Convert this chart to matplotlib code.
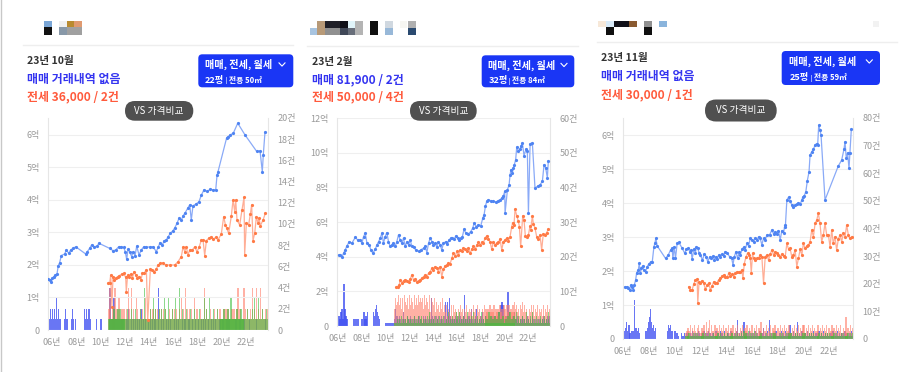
import numpy as np
import matplotlib
matplotlib.use("Agg")
import matplotlib.pyplot as plt
from matplotlib.patches import Rectangle, FancyBboxPatch

plt.rcParams["font.family"] = ["Noto Sans CJK KR", "DejaVu Sans"]

# ---------------- data ----------------
# price points: (year, 억원)
c1_sale = [(2005.70, 1.57), (2005.81, 1.54), (2005.95, 1.49), (2006.03, 1.59), (2006.14, 1.64), (2006.28, 1.69),
           (2006.41, 1.72), (2006.52, 1.98), (2006.63, 2.07), (2006.77, 2.29), (2007.05, 2.34), (2007.18, 2.46),
           (2007.38, 2.36), (2007.54, 2.46), (2007.73, 2.51), (2007.96, 2.56), (2008.78, 2.34), (2008.92, 2.41),
           (2009.11, 2.51), (2009.28, 2.62), (2009.46, 2.56), (2009.75, 2.58), (2009.86, 2.67), (2010.77, 2.51),
           (2011.04, 2.44), (2011.26, 2.46), (2011.51, 2.56), (2011.73, 2.56), (2011.92, 2.54), (2012.06, 2.41),
           (2012.17, 2.17), (2012.28, 2.48), (2012.42, 2.41), (2012.58, 2.26), (2012.70, 2.41), (2012.86, 2.28),
           (2013.00, 2.58), (2013.19, 2.31), (2013.38, 2.46), (2013.58, 2.56), (2013.80, 2.54), (2014.07, 2.56),
           (2014.35, 2.56), (2014.62, 2.41), (2014.79, 2.56), (2014.93, 2.69), (2015.12, 2.62), (2015.28, 2.75),
           (2015.45, 2.77), (2015.59, 2.87), (2015.78, 2.97), (2016.00, 3.06), (2016.13, 3.13), (2016.33, 3.28),
           (2016.50, 3.44), (2016.69, 3.38), (2016.83, 3.51), (2016.98, 3.59), (2017.21, 3.74), (2017.38, 3.85),
           (2017.51, 3.38), (2017.65, 3.82), (2017.93, 3.88), (2018.15, 3.95), (2018.34, 4.15), (2018.56, 4.31),
           (2018.81, 4.26), (2019.09, 4.33), (2019.31, 4.31), (2019.53, 4.31), (2019.64, 4.77), (2019.72, 4.87),
           (2020.44, 5.92), (2020.57, 5.95), (2020.71, 6.00), (2020.98, 6.05), (2021.35, 6.36), (2021.95, 6.00),
           (2022.92, 5.49), (2023.19, 5.51), (2023.38, 4.87), (2023.46, 5.38), (2023.60, 6.08)]
c1_jeonse = [(2010.66, 1.46), (2010.77, 1.44), (2010.85, 1.69), (2010.95, 0.70), (2011.04, 1.64), (2011.15, 1.54),
             (2011.26, 1.59), (2011.42, 1.64), (2011.56, 1.67), (2011.76, 1.72), (2011.92, 1.74), (2012.09, 1.62),
             (2012.14, 1.18), (2012.25, 1.69), (2012.36, 1.64), (2012.50, 1.72), (2012.64, 1.59), (2012.78, 1.79),
             (2012.92, 1.69), (2013.05, 1.59), (2013.19, 1.64), (2013.35, 1.54), (2013.47, 1.74), (2013.60, 1.74),
             (2013.80, 1.85), (2013.91, 0.30), (2014.13, 1.87), (2014.30, 1.85), (2014.40, 1.79), (2014.62, 1.87),
             (2014.76, 2.00), (2014.96, 2.05), (2015.17, 2.07), (2015.39, 2.00), (2015.72, 2.00), (2016.14, 2.00),
             (2016.41, 2.10), (2016.69, 2.26), (2016.83, 2.56), (2016.97, 2.41), (2017.10, 2.56), (2017.24, 2.31),
             (2017.38, 2.46), (2017.60, 2.46), (2017.79, 2.56), (2017.98, 2.41), (2018.15, 2.54), (2018.34, 2.77),
             (2018.48, 2.77), (2018.62, 2.29), (2018.76, 2.75), (2018.95, 2.82), (2019.17, 2.87), (2019.31, 2.79),
             (2019.53, 2.85), (2019.72, 2.77), (2019.99, 2.95), (2020.19, 3.49), (2020.33, 3.23), (2020.44, 3.13),
             (2020.60, 2.97), (2020.82, 3.51), (2020.96, 4.00), (2021.10, 3.64), (2021.18, 4.00), (2021.29, 3.38),
             (2021.51, 3.23), (2021.70, 3.69), (2021.87, 4.08), (2021.92, 2.31), (2022.06, 3.28), (2022.25, 3.23),
             (2022.39, 3.57), (2022.50, 3.85), (2022.61, 2.75), (2022.75, 2.97), (2022.89, 3.49), (2023.03, 3.28),
             (2023.11, 3.44), (2023.22, 3.21), (2023.44, 3.38), (2023.63, 3.59)]

c2_sale = [(2006.08, 4.10), (2006.22, 4.07), (2006.36, 3.97), (2006.50, 4.20), (2006.64, 4.39), (2006.78, 4.62),
           (2006.98, 4.87), (2007.20, 4.78), (2007.48, 5.11), (2007.68, 4.97), (2007.90, 4.97), (2008.04, 4.78),
           (2008.18, 5.16), (2008.32, 5.36), (2008.46, 4.78), (2008.65, 4.68), (2008.79, 4.39), (2008.96, 4.20),
           (2009.16, 4.43), (2009.30, 4.68), (2009.44, 4.87), (2009.58, 5.07), (2009.72, 5.36), (2009.85, 4.78),
           (2009.99, 5.16), (2010.13, 5.39), (2010.27, 4.87), (2010.41, 4.59), (2010.55, 4.68), (2010.69, 4.78),
           (2010.83, 4.59), (2010.97, 4.87), (2011.11, 5.26), (2011.25, 4.97), (2011.39, 4.78), (2011.53, 5.07),
           (2011.67, 4.59), (2011.81, 4.87), (2011.95, 4.68), (2012.09, 4.97), (2012.23, 4.59), (2012.37, 4.55),
           (2012.56, 4.39), (2012.79, 4.30), (2012.98, 4.39), (2013.21, 4.49), (2013.35, 4.59), (2013.49, 4.24),
           (2013.63, 4.78), (2013.77, 5.07), (2013.91, 4.87), (2014.04, 4.68), (2014.18, 4.78), (2014.32, 4.55),
           (2014.46, 4.87), (2014.60, 4.68), (2014.74, 4.39), (2014.88, 4.78), (2015.08, 4.87), (2015.22, 4.74),
           (2015.36, 4.97), (2015.50, 5.07), (2015.64, 5.07), (2015.78, 5.01), (2015.92, 5.20), (2016.06, 5.07),
           (2016.20, 4.97), (2016.34, 5.07), (2016.47, 5.16), (2016.61, 5.59), (2016.75, 5.36), (2016.98, 5.32),
           (2017.17, 5.45), (2017.34, 5.65), (2017.45, 5.93), (2017.62, 5.74), (2017.82, 5.84), (2018.01, 5.78),
           (2018.18, 6.22), (2018.29, 6.42), (2018.40, 6.90), (2018.51, 7.19), (2018.65, 7.28), (2018.85, 7.23),
           (2019.07, 7.19), (2019.30, 7.15), (2019.49, 7.24), (2019.63, 7.28), (2019.77, 7.38), (2019.91, 7.51),
           (2020.02, 7.76), (2020.05, 6.51), (2020.25, 7.86), (2020.39, 8.15), (2020.47, 8.73), (2020.55, 9.02),
           (2020.66, 8.82), (2020.75, 9.11), (2020.83, 9.31), (2020.94, 9.60), (2021.03, 10.33), (2021.17, 10.08),
           (2021.31, 10.21), (2021.39, 10.40), (2021.50, 10.56), (2021.64, 9.83), (2021.81, 10.21), (2021.92, 10.08),
           (2022.01, 6.51), (2022.15, 10.52), (2022.34, 10.56), (2022.56, 7.96), (2022.84, 8.09), (2022.98, 8.15),
           (2023.18, 8.34), (2023.32, 9.31), (2023.46, 9.11), (2023.60, 8.54), (2023.68, 9.54)]
c2_jeonse = [(2010.92, 2.24), (2011.03, 2.27), (2011.17, 2.37), (2011.25, 2.66), (2011.39, 2.50), (2011.53, 2.62),
             (2011.67, 2.66), (2011.81, 2.62), (2011.95, 2.56), (2012.09, 2.70), (2012.23, 2.95), (2012.37, 2.66),
             (2012.51, 2.70), (2012.65, 2.56), (2012.79, 2.62), (2012.93, 2.66), (2013.07, 2.76), (2013.21, 2.85),
             (2013.35, 2.95), (2013.49, 2.85), (2013.63, 3.04), (2013.77, 3.14), (2013.91, 3.33), (2014.04, 3.24),
             (2014.18, 3.43), (2014.32, 3.33), (2014.46, 3.14), (2014.60, 3.43), (2014.74, 2.85), (2014.88, 3.28),
             (2015.02, 3.47), (2015.16, 3.53), (2015.30, 3.62), (2015.44, 3.58), (2015.58, 3.91), (2015.72, 4.20),
             (2015.86, 4.01), (2016.00, 4.30), (2016.14, 4.10), (2016.28, 4.39), (2016.42, 4.30), (2016.56, 4.49),
             (2016.70, 4.43), (2016.84, 4.30), (2016.98, 4.49), (2017.12, 4.20), (2017.26, 4.43), (2017.40, 4.59),
             (2017.54, 4.43), (2017.68, 4.68), (2017.82, 4.82), (2017.96, 4.68), (2018.09, 4.82), (2018.23, 4.78),
             (2018.37, 5.07), (2018.51, 5.20), (2018.65, 5.01), (2018.79, 4.87), (2018.93, 4.43), (2019.07, 4.87),
             (2019.21, 4.68), (2019.35, 4.78), (2019.49, 4.82), (2019.63, 5.01), (2019.77, 4.39), (2019.91, 4.87),
             (2020.05, 4.97), (2020.19, 5.07), (2020.33, 4.93), (2020.47, 5.16), (2020.61, 5.74), (2020.69, 5.97),
             (2020.80, 5.84), (2020.89, 6.74), (2021.03, 6.36), (2021.17, 6.03), (2021.25, 5.74), (2021.36, 4.59),
             (2021.53, 6.36), (2021.64, 6.13), (2021.75, 5.20), (2021.87, 5.16), (2022.01, 5.26), (2022.15, 5.78),
             (2022.20, 5.55), (2022.34, 6.36), (2022.42, 5.90), (2022.56, 5.65), (2022.70, 5.16), (2022.84, 5.01),
             (2022.98, 5.26), (2023.12, 4.39), (2023.26, 5.32), (2023.40, 5.26), (2023.54, 5.39), (2023.68, 5.59)]

c3_sale = [(2006.15, 1.54), (2006.28, 1.54), (2006.41, 1.49), (2006.52, 1.44), (2006.59, 1.59), (2006.72, 1.54),
           (2006.80, 1.44), (2006.88, 1.59), (2006.98, 1.74), (2007.06, 1.95), (2007.19, 2.03), (2007.26, 2.23),
           (2007.34, 1.93), (2007.42, 2.08), (2007.52, 2.15), (2007.62, 2.03), (2007.75, 1.98), (2007.88, 2.13),
           (2008.01, 2.21), (2008.14, 2.27), (2008.27, 2.27), (2008.40, 2.72), (2008.47, 2.81), (2008.55, 2.96),
           (2008.65, 2.74), (2009.30, 2.37), (2009.51, 2.47), (2009.69, 2.62), (2009.81, 2.67), (2009.87, 2.37),
           (2009.97, 2.72), (2010.07, 2.37), (2010.20, 2.81), (2010.33, 2.84), (2010.59, 2.67), (2010.79, 2.52),
           (2010.92, 2.64), (2011.05, 2.67), (2011.18, 2.57), (2011.28, 2.62), (2011.36, 2.34), (2011.49, 2.64),
           (2011.62, 2.54), (2011.70, 2.72), (2011.80, 2.67), (2011.90, 2.54), (2012.01, 2.47), (2012.16, 2.32),
           (2012.31, 2.50), (2012.47, 2.42), (2012.57, 2.27), (2012.73, 2.42), (2012.83, 2.37), (2012.98, 2.44),
           (2013.09, 2.32), (2013.19, 2.42), (2013.29, 2.34), (2013.42, 2.47), (2013.55, 2.42), (2013.68, 2.50),
           (2013.81, 2.44), (2013.94, 2.57), (2014.07, 2.54), (2014.27, 2.42), (2014.43, 2.37), (2014.53, 2.18),
           (2014.63, 2.42), (2014.76, 2.57), (2014.89, 2.37), (2015.02, 2.57), (2015.10, 2.47), (2015.23, 2.64),
           (2015.36, 2.70), (2015.48, 2.62), (2015.61, 2.81), (2015.74, 2.74), (2015.87, 2.96), (2016.00, 2.91),
           (2016.13, 2.86), (2016.26, 2.96), (2016.39, 2.91), (2016.52, 3.01), (2016.64, 2.96), (2016.77, 2.77),
           (2016.90, 2.96), (2017.03, 2.91), (2017.16, 3.06), (2017.37, 3.06), (2017.55, 3.21), (2017.68, 3.09),
           (2017.80, 3.16), (2017.93, 3.09), (2018.06, 3.19), (2018.19, 2.91), (2018.32, 3.19), (2018.45, 3.11),
           (2018.53, 3.30), (2018.60, 3.35), (2018.71, 4.09), (2018.84, 4.17), (2018.96, 4.07), (2019.09, 3.94),
           (2019.22, 3.89), (2019.35, 3.94), (2019.48, 3.97), (2019.61, 4.01), (2019.74, 3.96), (2019.87, 4.09),
           (2019.94, 4.17), (2020.05, 4.21), (2020.18, 4.33), (2020.30, 4.66), (2020.43, 4.92), (2020.51, 5.41),
           (2020.64, 5.51), (2020.77, 5.58), (2020.90, 5.71), (2021.03, 5.75), (2021.10, 5.71), (2021.18, 6.29),
           (2021.28, 6.15), (2021.36, 6.00), (2021.67, 4.09), (2022.70, 5.09), (2022.96, 5.26), (2023.14, 5.58),
           (2023.22, 5.80), (2023.32, 5.31), (2023.42, 5.48), (2023.53, 5.02), (2023.60, 5.48), (2023.71, 6.17)]
c3_jeonse = [(2011.10, 1.54), (2011.23, 1.44), (2011.36, 1.44), (2011.49, 1.62), (2011.62, 1.74), (2011.75, 1.76),
             (2011.80, 1.05), (2011.90, 1.69), (2012.01, 1.64), (2012.13, 1.72), (2012.26, 1.64), (2012.39, 1.46),
             (2012.52, 1.59), (2012.65, 1.64), (2012.78, 1.44), (2012.91, 1.56), (2013.04, 1.69), (2013.16, 1.64),
             (2013.29, 1.66), (2013.42, 1.74), (2013.55, 1.78), (2013.68, 1.85), (2013.81, 1.88), (2013.94, 1.83),
             (2014.07, 1.81), (2014.20, 1.93), (2014.32, 1.85), (2014.45, 1.91), (2014.58, 1.83), (2014.71, 1.93),
             (2014.84, 1.98), (2014.97, 1.96), (2015.10, 1.98), (2015.23, 2.03), (2015.30, 1.78), (2015.41, 2.22),
             (2015.54, 2.42), (2015.66, 2.52), (2015.77, 2.47), (2015.87, 2.37), (2015.95, 1.95), (2016.05, 2.52),
             (2016.13, 2.37), (2016.26, 2.32), (2016.39, 2.37), (2016.52, 2.39), (2016.64, 2.47), (2016.77, 2.42),
             (2016.90, 1.64), (2017.03, 2.42), (2017.16, 2.47), (2017.29, 2.32), (2017.42, 2.50), (2017.55, 2.62),
             (2017.68, 2.47), (2017.80, 2.57), (2017.93, 2.52), (2018.06, 2.47), (2018.19, 2.42), (2018.32, 2.50),
             (2018.45, 2.44), (2018.58, 2.42), (2018.71, 2.81), (2018.84, 2.64), (2018.96, 2.67), (2019.09, 2.42),
             (2019.22, 2.47), (2019.35, 2.62), (2019.48, 2.13), (2019.61, 2.37), (2019.74, 2.64), (2019.87, 2.47),
             (2019.99, 2.81), (2020.12, 2.67), (2020.25, 2.73), (2020.38, 2.76), (2020.51, 2.86), (2020.64, 3.21),
             (2020.77, 3.01), (2020.90, 3.40), (2021.03, 3.50), (2021.15, 3.70), (2021.28, 3.40), (2021.41, 2.86),
             (2021.54, 3.06), (2021.67, 3.40), (2021.80, 3.06), (2021.93, 3.06), (2022.06, 2.71), (2022.19, 3.21),
             (2022.31, 2.81), (2022.44, 3.01), (2022.57, 2.62), (2022.70, 2.93), (2022.83, 3.06), (2022.96, 2.86),
             (2023.09, 3.11), (2023.22, 3.01), (2023.35, 3.35), (2023.48, 3.06), (2023.60, 2.96), (2023.73, 3.01)]

# monthly deal counts, one character per month (base 36), a space between years
c1_sale_cnt = "4121 212131211000 121100012101 000000002121 221000001000 100000000401 131010101110 011200101010 " \
              "101020101001 010101100400 101001010100 010101000101 100110010010 010010101001 001010100010 " \
              "010001010000 001000100010 000100000010 00000001001"
c1_jeonse_cnt = "000000002411 214121311212 121421412113 211212113121 121221212121 212121112112 121211213121 " \
                "412121211312 211211141211 121112112121 112121211121 211241211142 121121412141 21412112121"
c1_wolse_cnt = "000000001111 121112121111 112111211121 111211141121 121131211121 211321131112 113111411211 " \
               "121112111211 112111131211 311121112111 112111211311 111211121111 121111213111 31112111211"

c2_sale_cnt = "032452c53200 000020202000 204232400000 435643200000 111111111253 323212422132 232123212332 " \
              "213232123283 231323123213 727383222232 232322392223 325212352123 242123221232 323223426762 " \
              "232a42123242 232122322123 212132121212 21232123232"
c2_jeonse_cnt = "000000000586 796858497685 968759686978 785968759487 684756475846 463543636454 354645354634 " \
                "545364536453 354635453645 463545364536 536463546475 645365746453 354646354635 45363546354"
c2_wolse_cnt = "000000000111 212131212132 121213121312 312121314121 213121312131 121412131214 314121312141 " \
               "213141213121 412131214131 213121412131 121314121312 413121312141 213141213121 31213121412"

c3_sale_cnt = "0346352033e4 434200000346 8b6453400000 000003545300 322100211212 212131212132 121312231212 " \
              "213121322131 122132121371 213162121312 121312131241 213171212131 121312131215 213121612131 " \
              "121312121312 213121312121 121312131212 21312121312"
c3_jeonse_cnt = "000000000023 435243532453 243526347253 352435243524 435243524352 243524352435 524352436243 " \
                "352435243524 435243524352 243524352435 524352435243 352435243524 435243524352 24382435243"
c3_wolse_cnt = "000000000011 121112121211 112121112111 211121211121 121112112121 112131213121 213121112111 " \
               "121112121211 112121112121 211121211112 121112121211 112121112121 211121211112 12111212121"

headers = [("23년 10월", "매매 거래내역 없음", "전세 36,000 / 2건", "22평", "전용 50㎡"),
           ("23년 2월", "매매 81,900 / 2건", "전세 50,000 / 4건", "32평", "전용 84㎡"),
           ("23년 11월", "매매 거래내역 없음", "전세 30,000 / 1건", "25평", "전용 59㎡")]

# ---------------- layout (pixels) ----------------
W, H = 909, 372
fig = plt.figure(figsize=(W / 100, H / 100), dpi=100, facecolor="white")

SALE_LINE, SALE_DOT = "#8aaaf7", "#4f84f2"
JS_LINE, JS_DOT = "#ffae96", "#ff7a45"
BAR_SALE, BAR_JS, BAR_WS = "#3f50f2", "#ff7e6a", "#3bbd3b"
TICK = "#9a9a9a"

charts = [
    dict(box=(48, 118, 268, 330), xlim=(2005.67, 2023.85), ymax=6.52, lstep=1, rmax=20, rstep=2,
         sale=c1_sale, js=c1_jeonse, cnt=[(c1_sale_cnt, 2005 + 8 / 12), (c1_jeonse_cnt, 2010), (c1_wolse_cnt, 2010)]),
    dict(box=(337, 118, 550, 326), xlim=(2005.95, 2023.82), ymax=12, lstep=2, rmax=60, rstep=10,
         sale=c2_sale, js=c2_jeonse, cnt=[(c2_sale_cnt, 2006), (c2_jeonse_cnt, 2010), (c2_wolse_cnt, 2010)]),
    dict(box=(623, 118, 853, 339), xlim=(2006.03, 2023.84), ymax=6.5, lstep=1, rmax=80, rstep=10,
         sale=c3_sale, js=c3_jeonse, cnt=[(c3_sale_cnt, 2006), (c3_jeonse_cnt, 2010), (c3_wolse_cnt, 2010)]),
]


def monthly(s, start):
    v = np.array([int(c, 36) for c in "".join(s.split())], dtype=float)
    return start + (np.arange(len(v)) + 0.5) / 12, v


for cfg in charts:
    l, t, r, b = cfg["box"]
    ax = fig.add_axes([l / W, 1 - b / H, (r - l) / W, (b - t) / H])
    ax2 = ax.twinx()
    ax.set_zorder(ax2.get_zorder() + 1)
    ax.patch.set_visible(False)
    ax2.patch.set_visible(False)

    for (s, start), col, al in zip(cfg["cnt"], [BAR_SALE, BAR_JS, BAR_WS], [0.78, 0.6, 0.58]):
        x, v = monthly(s, start)
        ax2.bar(x, v, width=0.1, color=col, alpha=al, linewidth=0)

    for pts, lc, dc in [(cfg["sale"], SALE_LINE, SALE_DOT), (cfg["js"], JS_LINE, JS_DOT)]:
        x, y = np.array(pts).T
        ax.plot(x, y, color=lc, lw=0.9, zorder=3)
        ax.plot(x, y, "o", ms=2.3, color=dc, mew=0, zorder=4)

    ax.set_xlim(*cfg["xlim"])
    ax.set_ylim(0, cfg["ymax"])
    ax2.set_ylim(0, cfg["rmax"])
    yt = np.arange(0, int(cfg["ymax"]) + 0.01, cfg["lstep"])
    ax.set_yticks(yt)
    ax.set_yticklabels(["0" if v == 0 else f"{int(v)}억" for v in yt])
    rt = np.arange(0, cfg["rmax"] + 1, cfg["rstep"])
    ax2.set_yticks(rt)
    ax2.set_yticklabels(["0" if v == 0 else f"{int(v)}건" for v in rt])
    xt = list(range(2006, 2023, 2))
    ax.set_xticks(xt)
    ax.set_xticklabels([f"{y % 100:02d}년" for y in xt])

    ax.yaxis.grid(True, color="#efefef", lw=0.8)
    ax.set_axisbelow(True)
    for a in (ax, ax2):
        for s in a.spines.values():
            s.set_visible(False)
    ax.spines["left"].set_visible(True)
    ax.spines["left"].set_color("#e6e6e6")
    ax2.spines["right"].set_visible(True)
    ax2.spines["right"].set_color("#e6e6e6")
    ax.tick_params(axis="y", length=0, pad=6, labelsize=6.5, labelcolor=TICK)
    ax.tick_params(axis="x", length=0, pad=6, labelsize=6.5, labelcolor=TICK)
    ax2.tick_params(axis="y", length=0, pad=7, labelsize=6.5, labelcolor=TICK)

# ---------------- card decorations / header texts ----------------
ov = fig.add_axes([0, 0, 1, 1])
ov.set_xlim(0, W)
ov.set_ylim(H, 0)
ov.axis("off")
ov.set_zorder(10)
ov.patch.set_visible(False)

ov.plot([1, 1], [0, H], color="#c8c8c8", lw=1)
for x0, x1, y in [(23, 293, 44.5), (307, 578, 45.5), (597, 897, 42)]:
    ov.plot([x0, x1], [y, y], color="#eeeeee", lw=1)

# blurred name mosaics
mosaic = [(44, 20.7, 7.7, 6.6, "#7aa6d6"), (44, 27.3, 7.7, 7.7, "#111111"), (59.3, 20.7, 7.4, 6.6, "#f0f0f0"),
          (66.7, 20.7, 7.3, 6.6, "#b88a30"), (74, 20.7, 7.7, 6.6, "#e09a70"), (59.3, 27.3, 7.4, 7.7, "#8898a8"),
          (66.7, 27.3, 15, 7.7, "#a0a0a0"),
          (310, 28.3, 6.7, 6.7, "#a8c4e0"), (316.7, 20.7, 8.3, 14.3, "#b89a78"), (325, 20.7, 15, 7.6, "#202028"),
          (325, 28.3, 15, 6.7, "#909090"), (340, 20.7, 8.3, 7.6, "#101018"), (340, 28.3, 8.3, 6.7, "#404858"),
          (348.3, 20.7, 6.7, 7.6, "#e0f4fa"), (348.3, 28.3, 6.7, 6.7, "#686e7a"), (355, 20.7, 8.3, 14.3, "#b4b4b4"),
          (370, 20.7, 8.3, 14.3, "#101010"), (385, 20.7, 8.3, 7.6, "#d0d8e0"), (385, 28.3, 8.3, 6.7, "#98b8d8"),
          (400, 20.7, 6.7, 7.6, "#f6f6f2"), (408.3, 20.7, 7.7, 7.6, "#b0b0b0"), (408.3, 28.3, 7.7, 6.7, "#2a4a70"),
          (598.3, 20.7, 7.7, 6.6, "#f7e8d8"), (606, 20.7, 8, 6.6, "#d8eaf8"), (606, 27.3, 8, 7.7, "#101010"),
          (614, 20.7, 15.3, 6.6, "#101018"), (629.3, 20.7, 7.4, 6.6, "#8a5a30"), (644, 20.7, 7.7, 6.6, "#909090"),
          (644, 27.3, 7.7, 7.7, "#101010"), (659.3, 20.7, 8, 6.6, "#8ab4dc"), (872.7, 20.7, 6.6, 6.6, "#f2f2f2")]
for x, y, w, h, c in mosaic:
    ov.add_patch(Rectangle((x, y), w, h, color=c, lw=0))

text_pos = [(27, 61, 79, 97), (312, 62, 79.5, 96.5), (601, 58, 76, 94.5)]
buttons = [(198.3, 54.3, 293.3, 87.3, 205, 64.5, 80, 225.5, 282),
           (481.7, 55.3, 574.3, 87.3, 488.3, 65, 80.5, 508.5, 564),
           (781.7, 51, 880, 85, 789.3, 61.5, 77.5, 810.5, 869.3)]
pills = [(125, 101, 193.3, 120.7), (410, 101, 476.7, 120.7), (705, 99.5, 776.7, 121.5)]

for (month, sale_txt, js_txt, pyeong, area), (tx, y1, y2, y3), bt, pl in zip(headers, text_pos, buttons, pills):
    ov.text(tx, y1, month, fontsize=7.6, fontweight="bold", color="#333333", va="center", ha="left")
    ov.text(tx, y2, sale_txt, fontsize=8.6, fontweight="bold", color="#3434f0", va="center", ha="left")
    ov.text(tx, y3, js_txt, fontsize=8.6, fontweight="bold", color="#ff5a3c", va="center", ha="left")

    bx0, by0, bx1, by1, lx, ly1, ly2, divx, chx = bt
    ov.add_patch(FancyBboxPatch((bx0 + 3, by0 + 3), bx1 - bx0 - 6, by1 - by0 - 6,
                                boxstyle="round,pad=3,rounding_size=4", color="#1a36f5", lw=0))
    ov.text(lx, ly1, "매매, 전세, 월세", fontsize=7.3, fontweight="bold", color="white", va="center", ha="left")
    ov.plot([chx - 3, chx, chx + 3], [ly1 - 1.6, ly1 + 1.6, ly1 - 1.6], color="white", lw=0.8)
    ov.text(lx, ly2, pyeong, fontsize=6.6, fontweight="bold", color="white", va="center", ha="left")
    ov.plot([divx, divx], [ly2 - 3, ly2 + 3], color="#9aa8fa", lw=0.7)
    ov.text(divx + 3.5, ly2, area, fontsize=5.6, fontweight="bold", color="white", va="center", ha="left")

    px0, py0, px1, py1 = pl
    rr = (py1 - py0) / 2
    ov.add_patch(FancyBboxPatch((px0 + rr, py0 + rr), px1 - px0 - 2 * rr, 0.01,
                                boxstyle=f"round,pad={rr},rounding_size={rr}", color="#505050", lw=0))
    ov.text((px0 + px1) / 2, (py0 + py1) / 2, "VS 가격비교", fontsize=7, color="white",
            va="center", ha="center")

fig.savefig("out.png", dpi=100, facecolor="white")
